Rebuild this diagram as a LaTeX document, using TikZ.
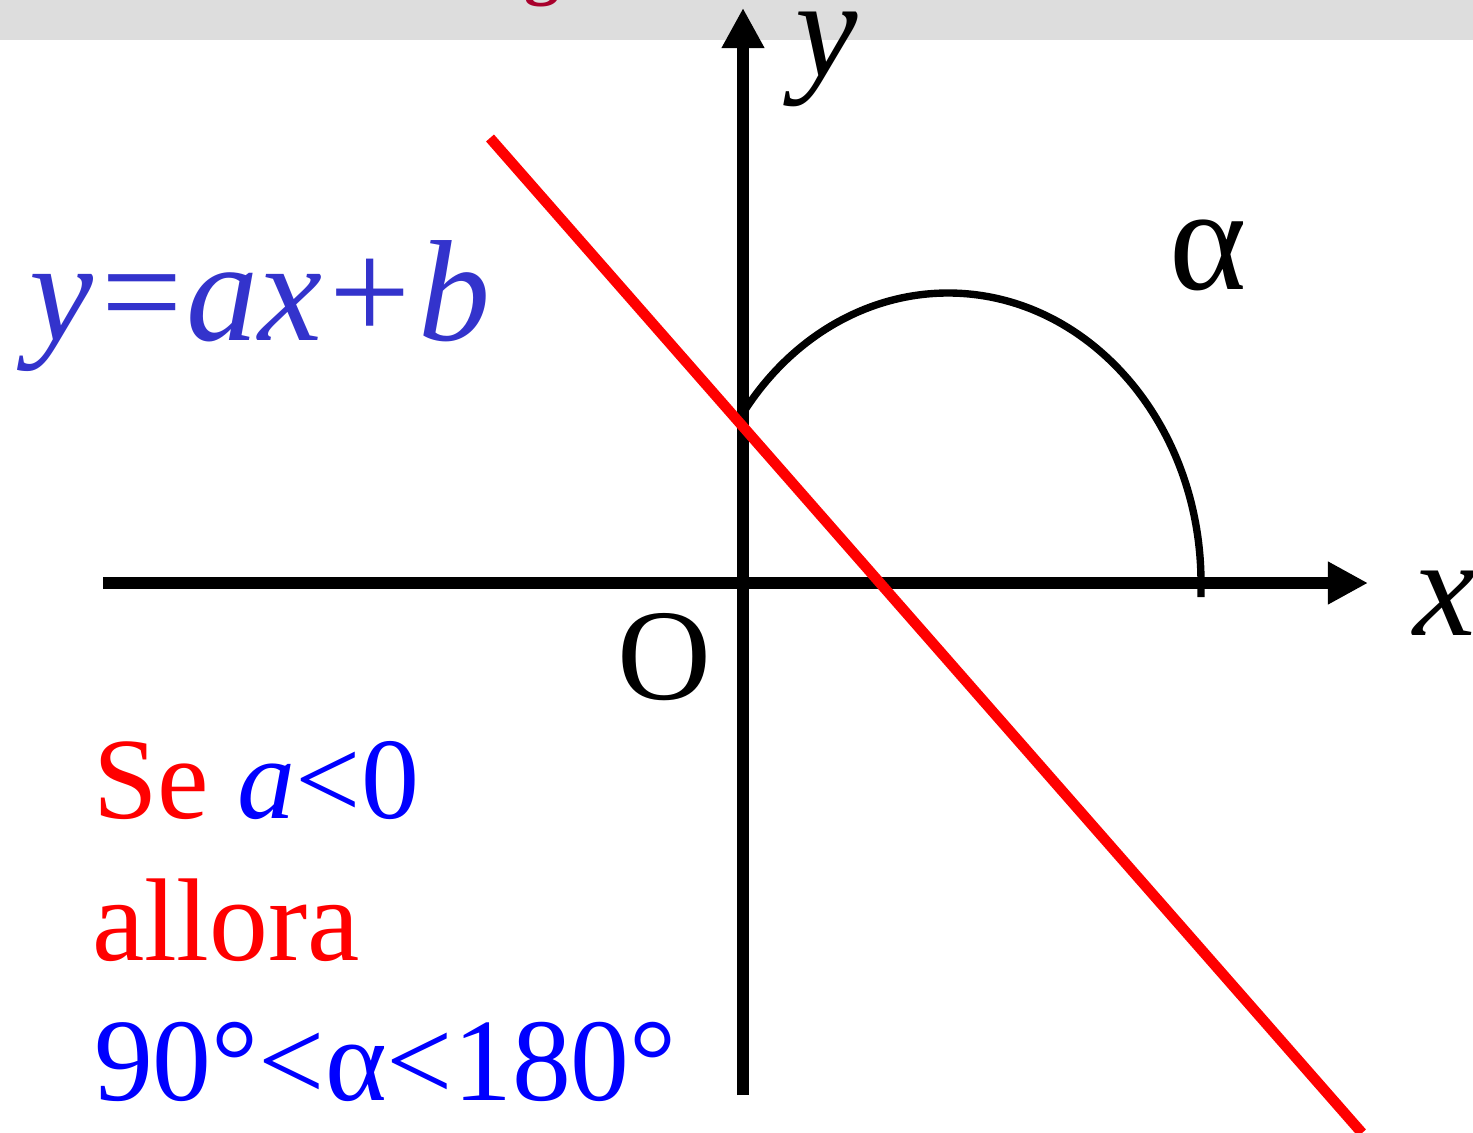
\documentclass[tikz,border=0pt]{standalone}
\usepackage{fontspec}
\setmainfont{Liberation Serif}
\usetikzlibrary{arrows.meta}
\definecolor{cband}{HTML}{DDDDDD}
\definecolor{ctitle}{HTML}{A8002C}
\definecolor{ceq}{HTML}{3333CC}
\definecolor{cred}{HTML}{FF0000}
\definecolor{cblue}{HTML}{0000FF}
\begin{document}
\begin{tikzpicture}[
    x={(0.02cm,0)}, y={(0,-0.02cm)},
    axis/.style={line width=6.8pt, draw=black, -{Triangle[length=22.8pt,width=22.8pt]}},
    retta/.style={line width=6pt, draw=cred},
    arco/.style={line width=4.2pt, draw=black},
    lab/.style={inner sep=0pt, outer sep=0pt}
]
\useasboundingbox (0,0) rectangle (1473,1132);
% banda del titolo
\fill[cband] (0,0) rectangle (1473,40);
\begin{scope}
  \clip (0,0) rectangle (1473,40);
  \node[lab, anchor=base, text=ctitle, font=\fontsize{40}{48}\selectfont\bfseries] (tit) at (542,-8) {g};
\end{scope}
% assi
\coordinate (xs) at (103,583);
\coordinate (xe) at (1368,583);
\coordinate (ys) at (743,1095);
\coordinate (ye) at (743,8);
\draw[axis] (xs) -- (xe);
\draw[axis] (ys) -- (ye);
% angolo
\coordinate (as) at (1201,597);
\draw[arco] (as) -- ++(0,-14) arc[start angle=0, end angle=-143, x radius=253, y radius=290];
% retta
\coordinate (ra) at (490,138);
\coordinate (rb) at (1362,1133);
\draw[retta] (ra) -- (rb);
% etichette
\node[lab, anchor=base west, font=\fontsize{80}{96}\selectfont\itshape] (lx) at (1413,635) {x};
\node[lab, anchor=base west, font=\fontsize{80}{96}\selectfont\itshape] (ly) at (795,77) {y};
\node[lab, font=\fontsize{74}{88}\selectfont] (lo) at (664,657) {O};
\node[lab, font=\fontsize{84}{100}\selectfont] (la) at (1208,255) {α};
\node[lab, anchor=base west, text=ceq, font=\fontsize{82}{100}\selectfont] (eq) at (30,340) {{\itshape y}\hspace{0.05em}=\hspace{0.03em}{\itshape ax}\hspace{0.05em}+\hspace{0.05em}{\itshape b}};
\node[lab, anchor=base west, font=\fontsize{66}{80}\selectfont] (t1) at (93,818) {\textcolor{cred}{Se} \textcolor{cblue}{{\itshape a}<0}};
\node[lab, anchor=base west, text=cred, font=\fontsize{67}{80}\selectfont] (t2) at (92,960) {allora};
\node[lab, anchor=base west, text=cblue, font=\fontsize{67}{80}\selectfont] (t3) at (94,1100) {90°<α<180°};
\end{tikzpicture}
\end{document}
